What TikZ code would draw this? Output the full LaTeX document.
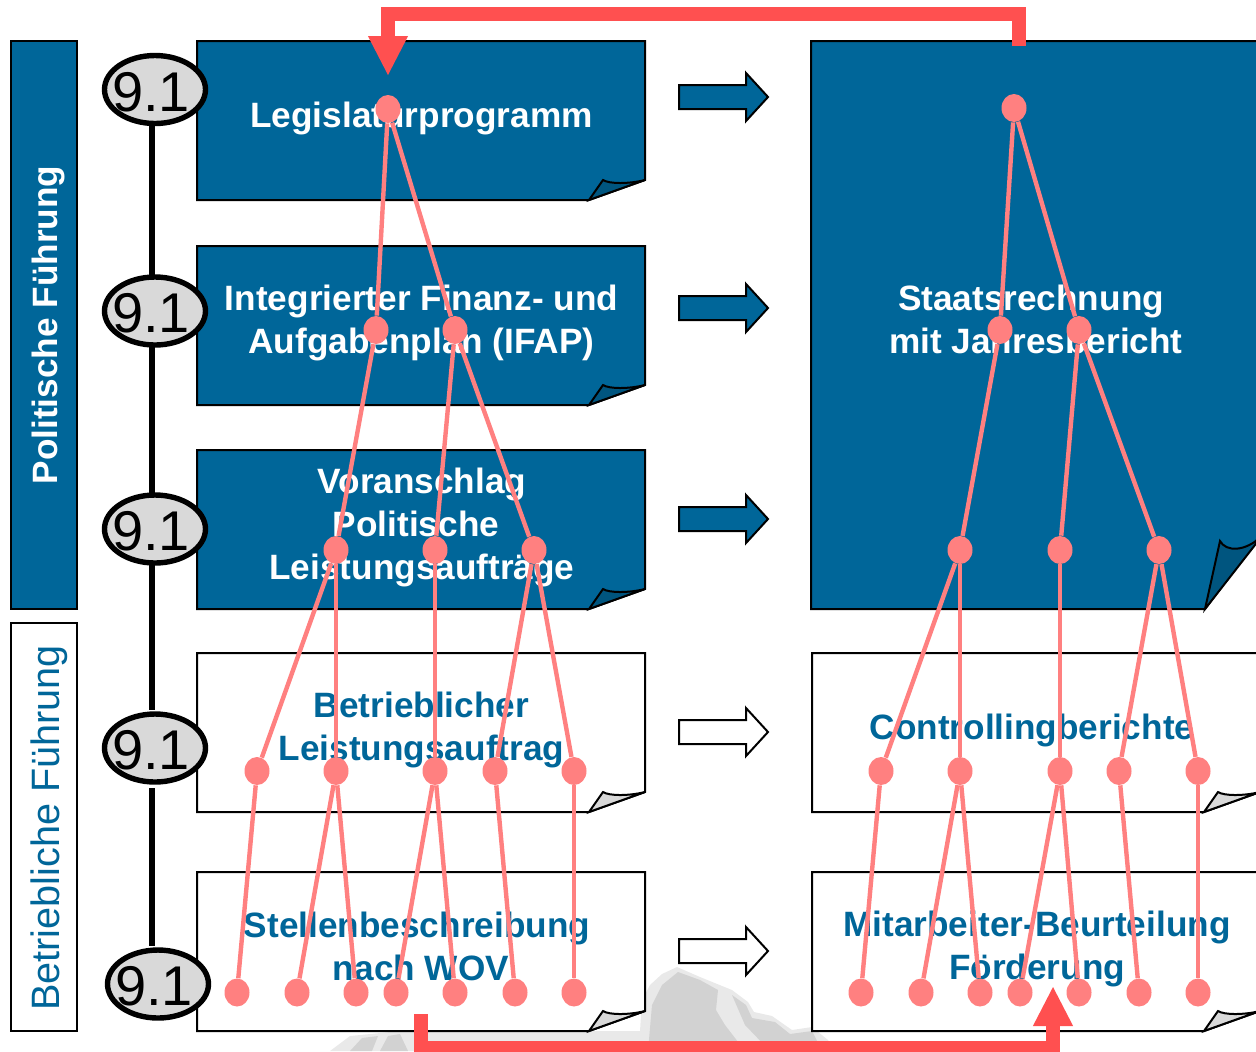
\documentclass[tikz,border=0pt]{standalone}
\usepackage{fontspec}
\setmainfont{Liberation Sans}
\usetikzlibrary{arrows.meta,shapes.geometric}
\definecolor{kblue}{HTML}{006699}
\definecolor{kfold}{HTML}{00557F}
\definecolor{kpink}{HTML}{FF8080}
\definecolor{kred}{HTML}{FF5050}
\definecolor{kgrey}{HTML}{D9D9D9}
\definecolor{kmount}{HTML}{D2D2D2}
\definecolor{kmountl}{HTML}{E9E9E9}
\newcommand{\docbox}[6]{% x1 y1 x2 y2 bodystyle foldcolor
  \filldraw[outl,#5] (#1,#2) -- (#3,#2) -- (#3,#4-20) -- (#3-56,#4) -- (#1,#4) -- cycle;
  \filldraw[outl,fill=#6] (#3-56,#4) -- (#3-42,#4-20) .. controls (#3-36,#4-16) and (#3-16,#4-16) .. (#3,#4-20) -- cycle;
}
\newcommand{\blockarrow}[2]{% y fill
  \filldraw[outl,fill=#2] (679,#1-12) -- (746,#1-12) -- (746,#1-24) -- (768,#1) -- (746,#1+24) -- (746,#1+12) -- (679,#1+12) -- cycle;
}
\tikzset{
  outl/.style={draw=black,line width=1pt,line join=miter},
  bluetxt/.style={font=\fontsize{17.6}{21.5}\selectfont\bfseries,text=white,align=center,inner sep=0pt},
  whitetxt/.style={font=\fontsize{17.6}{21.5}\selectfont\bfseries,text=kblue,align=center,inner sep=0pt},
  ell/.style={ellipse,draw=black,line width=2.7pt,fill=kgrey,minimum width=50.5pt,minimum height=34pt,inner sep=0pt},
  elltxt/.style={font=\fontsize{28}{28}\selectfont,inner sep=0pt},
  dot/.style={ellipse,fill=kpink,minimum width=12.5pt,minimum height=14pt,inner sep=0pt},
  tie/.style={draw=kpink,line width=2.2pt},
  spine/.style={draw=black,line width=3pt},
  bigred/.style={draw=kred,line width=7pt,line join=miter,-{Triangle[length=20pt,width=18.5pt,fill=kred]}}
}
\begin{document}
\begin{tikzpicture}[x=0.5pt,y=-0.5pt]
\useasboundingbox (0,0) rectangle (1256,1051);
\clip (0,0) rectangle (1256,1051);
% mountain
\fill[kmountl] (330,1051) -- (350,1036) -- (400,1031) -- (640,1031) -- (642,1000) -- (650,985) -- (662,974) -- (677,967) -- (700,977) -- (732,990) -- (748,1002) -- (754,1012) -- (772,1016) -- (792,1030) -- (812,1027) -- (828,1040) -- (835,1051) -- cycle;
\fill[kmount] (648,1051) -- (652,1005) -- (662,985) -- (678,972) -- (700,980) -- (718,990) -- (716,1010) -- (725,1025) -- (745,1051) -- cycle;
\fill[kmount] (732,995) -- (746,1005) -- (752,1018) -- (775,1022) -- (790,1034) -- (812,1031) -- (822,1051) -- (770,1051) -- (745,1025) -- cycle;
\fill[kmount] (350,1051) -- (362,1038) -- (378,1036) -- (372,1051) -- cycle;
\fill[kmount] (380,1051) -- (388,1036) -- (400,1034) -- (408,1051) -- cycle;
% side bars
\filldraw[outl,fill=kblue] (11,41) rectangle (77,609);
\filldraw[outl,fill=white] (11,623) rectangle (77,1031);
\node[rotate=90,font=\fontsize{17.6}{21}\selectfont\bfseries,text=white,inner sep=0pt] (pf) at (48.5,325) {Politische Führung};
\node[rotate=90,font=\fontsize{19.8}{24}\selectfont,text=kblue,inner sep=0pt] (bf) at (49,828) {Betriebliche Führung};
% boxes
\docbox{197}{41}{645}{200}{fill=kblue}{kfold}
\docbox{197}{246}{645}{405}{fill=kblue}{kfold}
\docbox{197}{450}{645}{609}{fill=kblue}{kfold}
\docbox{197}{653}{645}{812}{fill=white}{kgrey}
\docbox{197}{872}{645}{1031}{fill=white}{kgrey}
\docbox{812}{653}{1260}{812}{fill=white}{kgrey}
\docbox{812}{872}{1260}{1031}{fill=white}{kgrey}
\filldraw[outl,fill=kblue] (811,41) -- (1262,41) -- (1262,533) -- (1205,609) -- (811,609) -- cycle;
\filldraw[outl,fill=kfold] (1205,609) -- (1220,541) .. controls (1226,552) and (1245,552) .. (1262,536) -- cycle;
% arrows
\blockarrow{97}{kblue}
\blockarrow{308}{kblue}
\blockarrow{519}{kblue}
\blockarrow{732}{white}
\blockarrow{951}{white}
% texts
\node[bluetxt] (t1) at (421.5,118) {Legislaturprogramm};
\node[bluetxt] (t2) at (421.5,322.5) {Integrierter Finanz- und\\Aufgabenplan (IFAP)};
\node[bluetxt] (t3) at (422,527) {Voranschlag\\\makebox[0pt]{\hspace*{-6pt}Politische}\\Leistungsaufträge};
\node[whitetxt] (t4) at (421.5,729.5) {Betrieblicher\\Leistungsauftrag};
\node[whitetxt] (t5) at (421,946) {Stellenbeschreibung\hspace*{4pt}\\nach WOV};
\node[bluetxt] (t6) at (1036,319.5) {Staatsrechnung\hspace*{5pt}\\mit Jahresbericht};
\node[whitetxt] (t7) at (1032,730) {Controllingberichte};
\node[whitetxt] (t8) at (1037,949) {Mitarbeiter-Beurteilung\\Förderung};
% spine and ellipses
\coordinate (sa) at (152,90);
\coordinate (sb) at (152,710);
\coordinate (sc) at (152,788);
\coordinate (sd) at (152,946);
\draw[spine] (sa) -- (sb);
\draw[spine] (sc) -- (sd);
\foreach \n/\x/\y in {e1/155/89.5,e2/155/311,e3/155/529,e4/155/748,e5/158/984}{
  \node[ell] (\n) at (\x,\y) {};
  \node[elltxt] (\n t) at (\x-4,\y+2.5) {9.1};
}
% dots
\foreach \n/\x/\y in {a/388/109,b1/376/330,b2/455/330,c1/336/550,c2/435/550,c3/534/550,
  d1/257/771,d2/336/771,d3/435/771,d4/495/771,d5/574/771,
  f1/237/992.5,f2/297/992.5,f3/356/992.5,f4/396/992.5,f5/455/992.5,f6/515/992.5,f7/574/992.5,
  ra/1014/108,rb1/1000/330,rb2/1079/330,rc1/960/550,rc2/1060/550,rc3/1159/550,
  rd1/881/771,rd2/960/771,rd3/1060/771,rd4/1119/771,rd5/1198/771,
  rf1/861/992.5,rf2/921/992.5,rf3/980/992.5,rf4/1020/992.5,rf5/1079/992.5,rf6/1139/992.5,rf7/1198/992.5}{
  \node[dot] (\n) at (\x,\y) {};
}
\foreach \p in {,r}{
\foreach \u/\v in {a/b1,a/b2,b1/c1,b2/c2,b2/c3,c1/d1,c1/d2,c2/d3,c3/d4,c3/d5,
  d1/f1,d2/f2,d2/f3,d3/f4,d3/f5,d4/f6,d5/f7}{
  \draw[tie] (\p\u) -- (\p\v);
}}
% red feedback arrows
\coordinate (r1) at (1019,46);
\coordinate (r2) at (1019,14);
\coordinate (r3) at (388,14);
\coordinate (r4) at (388,76);
\draw[bigred] (r1) -- (r2) -- (r3) -- (r4);
\coordinate (s1) at (421,1014);
\coordinate (s2) at (421,1047.5);
\coordinate (s3) at (1053,1047.5);
\coordinate (s4) at (1053,986);
\draw[bigred] (s1) -- (s2) -- (s3) -- (s4);
\end{tikzpicture}
\end{document}
